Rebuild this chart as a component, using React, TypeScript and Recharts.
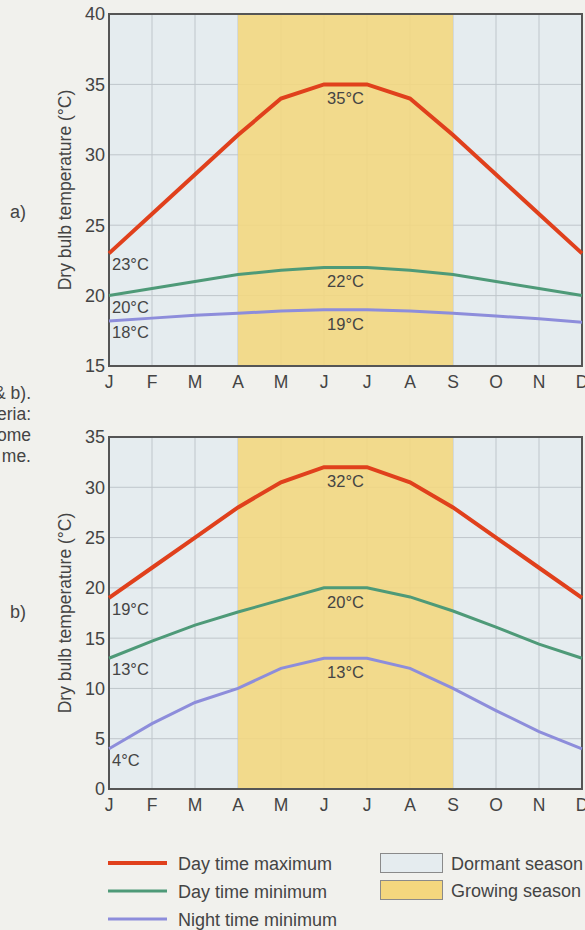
import React from 'react';
import {
  LineChart,
  Line,
  XAxis,
  YAxis,
  CartesianGrid,
  ReferenceArea,
  ReferenceDot,
} from 'recharts';

// ---------- data ----------
const months = ['J', 'F', 'M', 'A', 'M', 'J', 'J', 'A', 'S', 'O', 'N', 'D'];
const monthIndex = [0, 1, 2, 3, 4, 5, 6, 7, 8, 9, 10, 11];

const dayMaxA = [23, 25.8, 28.6, 31.4, 34, 35, 35, 34, 31.4, 28.6, 25.8, 23];
const dayMinA = [20, 20.5, 21, 21.5, 21.8, 22, 22, 21.8, 21.5, 21, 20.5, 20];
const nightMinA = [18.2, 18.4, 18.6, 18.75, 18.9, 19, 19, 18.9, 18.75, 18.55, 18.35, 18.1];

const dayMaxB = [19, 22, 25, 28, 30.5, 32, 32, 30.5, 28, 25, 22, 19];
const dayMinB = [13, 14.7, 16.3, 17.6, 18.8, 20, 20, 19.1, 17.7, 16.1, 14.4, 13];
const nightMinB = [4, 6.5, 8.6, 10, 12, 13, 13, 12, 10, 7.8, 5.7, 4];

const yTicksA = [15, 20, 25, 30, 35, 40];
const yTicksB = [0, 5, 10, 15, 20, 25, 30, 35];

const growingStart = 3; // A
const growingEnd = 8; // S

const seriesNames = ['Day time maximum', 'Day time minimum', 'Night time minimum'];
const seasonNames = ['Dormant season', 'Growing season'];

const annotationsA = [
  { x: 0, y: dayMaxA[0], text: '23°C', align: 'start' },
  { x: 0, y: dayMinA[0], text: '20°C', align: 'start' },
  { x: 0, y: nightMinA[0], text: '18°C', align: 'start' },
  { x: 5.5, y: dayMaxA[5], text: '35°C', align: 'middle' },
  { x: 5.5, y: dayMinA[5], text: '22°C', align: 'middle' },
  { x: 5.5, y: nightMinA[5], text: '19°C', align: 'middle' },
];
const annotationsB = [
  { x: 0, y: dayMaxB[0], text: '19°C', align: 'start' },
  { x: 0, y: dayMinB[0], text: '13°C', align: 'start' },
  { x: 0, y: nightMinB[0], text: '4°C', align: 'start' },
  { x: 5.5, y: dayMaxB[5], text: '32°C', align: 'middle' },
  { x: 5.5, y: dayMinB[5], text: '20°C', align: 'middle' },
  { x: 5.5, y: nightMinB[5], text: '13°C', align: 'middle' },
];

const sideNote = ['& b).', 'eria:', 'ome', 'me.'];

// ---------- styles ----------
const FONT = '"Liberation Sans", Arial, Helvetica, sans-serif';
const TEXT = '#444444';
const PAGE_BG = '#f1f1ed';
const DORMANT = '#e5ecef';
const GROWING = '#f4d77e';
const GRID = '#bfc6cb';
const FRAME = '#555555';
const COLORS = ['#e0401c', '#4e9a78', '#8d8ddb'];
const WIDTHS = [4, 3, 3];

const buildRows = (a: number[], b: number[], c: number[]) =>
  monthIndex.map((m) => ({ m, max: a[m], min: b[m], night: c[m] }));

const dataA = buildRows(dayMaxA, dayMinA, nightMinA);
const dataB = buildRows(dayMaxB, dayMinB, nightMinB);

const YTitle = (props: any) => {
  const vb = props.viewBox || { x: 0, y: 0, width: 0, height: 0 };
  const cx = vb.x + 65;
  const cy = vb.y + vb.height / 2;
  return (
    <text
      x={cx}
      y={cy}
      transform={`rotate(-90 ${cx} ${cy})`}
      textAnchor="middle"
      dominantBaseline="central"
      fontFamily={FONT}
      fontSize={17.5}
      fill={TEXT}
    >
      Dry bulb temperature (°C)
    </text>
  );
};

type Ann = { x: number; y: number; text: string; align: string };

const TempChart = ({
  data,
  domain,
  ticks,
  annotations,
  height,
  top,
  bottom,
}: {
  data: any[];
  domain: [number, number];
  ticks: number[];
  annotations: Ann[];
  height: number;
  top: number;
  bottom: number;
}) => (
  <LineChart
    width={585}
    height={height}
    data={data}
    margin={{ top, right: 3, bottom, left: 0 }}
  >
    <CartesianGrid fill={DORMANT} stroke={GRID} strokeWidth={1} />
    <ReferenceArea
      x1={growingStart}
      x2={growingEnd}
      y1={domain[0]}
      y2={domain[1]}
      fill={GROWING}
      fillOpacity={0.88}
      stroke="none"
    />
    <XAxis
      dataKey="m"
      type="number"
      domain={[0, 11]}
      ticks={monthIndex}
      interval={0}
      tickFormatter={(v: number) => months[v]}
      tickLine={false}
      axisLine={false}
      tickMargin={4}
      tick={{ fontFamily: FONT, fontSize: 17.5, fill: TEXT }}
      height={30}
    />
    <YAxis
      type="number"
      domain={domain}
      ticks={ticks}
      interval={0}
      width={109}
      tickLine={false}
      axisLine={false}
      tickSize={2}
      tickMargin={2}
      tick={{ fontFamily: FONT, fontSize: 18, fill: TEXT }}
      label={<YTitle />}
    />
    <ReferenceArea
      x1={0}
      x2={11}
      y1={domain[0]}
      y2={domain[1]}
      fill="none"
      stroke={FRAME}
      strokeWidth={2}
    />
    <Line dataKey="max" stroke={COLORS[0]} strokeWidth={WIDTHS[0]} dot={false} isAnimationActive={false} />
    <Line dataKey="min" stroke={COLORS[1]} strokeWidth={WIDTHS[1]} dot={false} isAnimationActive={false} />
    <Line dataKey="night" stroke={COLORS[2]} strokeWidth={WIDTHS[2]} dot={false} isAnimationActive={false} />
    {annotations.map((a, i) => (
      <ReferenceDot
        key={i}
        x={a.x}
        y={a.y}
        r={0}
        ifOverflow="visible"
        shape={(p: any) => (
          <text
            x={p.cx + (a.align === 'start' ? 3 : 0)}
            y={p.cy + (a.align === 'start' ? 17 : 20)}
            textAnchor={a.align}
            fontFamily={FONT}
            fontSize={16.5}
            fill={TEXT}
          >
            {a.text}
          </text>
        )}
      />
    ))}
  </LineChart>
);

const Legend = () => (
  <svg width={585} height={930} style={{ position: 'absolute', left: 0, top: 0, pointerEvents: 'none' }}>
    <text x={10} y={218} fontFamily={FONT} fontSize={18} fill={TEXT}>a)</text>
    <text x={10} y={618} fontFamily={FONT} fontSize={18} fill={TEXT}>b)</text>
    {sideNote.map((s, i) => (
      <text key={i} x={31} y={399 + i * 21} textAnchor="end" fontFamily={FONT} fontSize={17.5} fill={TEXT}>
        {s}
      </text>
    ))}
    {seriesNames.map((n, i) => (
      <g key={n}>
        <line x1={108} x2={167} y1={863 + i * 28} y2={863 + i * 28} stroke={COLORS[i]} strokeWidth={WIDTHS[i]} />
        <text x={178} y={869.5 + i * 28} fontFamily={FONT} fontSize={18} fill={TEXT}>
          {n}
        </text>
      </g>
    ))}
    {seasonNames.map((n, i) => (
      <g key={n}>
        <rect
          x={380.5}
          y={853.5 + i * 27}
          width={62}
          height={19}
          fill={i === 0 ? DORMANT : GROWING}
          stroke="#8a8a8a"
          strokeWidth={1}
        />
        <text x={451} y={869.5 + i * 27} fontFamily={FONT} fontSize={18} fill={TEXT}>
          {n}
        </text>
      </g>
    ))}
  </svg>
);

export default function App() {
  return (
    <div
      style={{
        position: 'absolute',
        left: 0,
        top: 0,
        width: 585,
        height: 930,
        background: PAGE_BG,
        overflow: 'hidden',
      }}
    >
      <div style={{ position: 'absolute', left: 0, top: 0 }}>
        <TempChart data={dataA} domain={[15, 40]} ticks={yTicksA} annotations={annotationsA} height={400} top={14} bottom={4} />
      </div>
      <div style={{ position: 'absolute', left: 0, top: 400 }}>
        <TempChart data={dataB} domain={[0, 35]} ticks={yTicksB} annotations={annotationsB} height={430} top={37} bottom={11} />
      </div>
      <Legend />
    </div>
  );
}
